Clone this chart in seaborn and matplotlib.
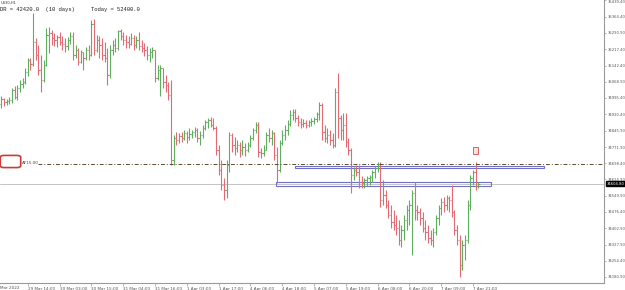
import numpy as np
import pandas as pd
import seaborn as sns
import matplotlib.pyplot as plt
from matplotlib.patches import Rectangle, FancyBboxPatch

# ---------------- data (US30, H1) ----------------
first_open = 34968
high = [35004, 34995, 34991, 35000, 35041, 35050, 35054, 35077, 35086, 35132,
        35177, 35177, 35382, 35268, 35236, 35191, 35168, 35314, 35318, 35304,
        35291, 35282, 35295, 35277, 35268, 35273, 35295, 35295, 35236, 35223,
        35214, 35204, 35227, 35236, 35350, 35355, 35282, 35277, 35268, 35250,
        35223, 35236, 35259, 35268, 35304, 35309, 35295, 35282, 35277, 35291,
        35282, 35277, 35295, 35259, 35245, 35232, 35223, 35227, 35214, 35145,
        35145, 35132, 35100, 35068, 35077, 34827, 34840, 34836, 34840, 34850,
        34845, 34859, 34850, 34863, 34859, 34845, 34872, 34895, 34904, 34909,
        34904, 34868, 34781, 34713, 34631, 34713, 34840, 34836, 34818, 34804,
        34795, 34804, 34790, 34795, 34827, 34859, 34886, 34886, 34768, 34781,
        34840, 34859, 34850, 34840, 34772, 34804, 34850, 34872, 34895, 34941,
        34945, 34945, 34918, 34904, 34900, 34895, 34895, 34904, 34909, 34931,
        34977, 34972, 34872, 34859, 34850, 34836, 35041, 35109, 34918, 34927,
        34927, 34813, 34768, 34681, 34690, 34690, 34640, 34631, 34640, 34645,
        34668, 34686, 34704, 34704, 34622, 34577, 34531, 34508, 34486, 34463,
        34440, 34417, 34463, 34508, 34531, 34577, 34613, 34508, 34495, 34476,
        34440, 34417, 34395, 34404, 34463, 34508, 34540, 34545, 34554, 34549,
        34599, 34486, 34417, 34372, 34349, 34372, 34531, 34645, 34668, 34704,
        34613]
low = [34950, 34959, 34963, 34968, 34972, 34991, 34986, 35022, 35041, 35059,
       35095, 35123, 35141, 35168, 35100, 35022, 35068, 35141, 35200, 35236,
       35232, 35227, 35236, 35214, 35204, 35214, 35241, 35168, 35177, 35145,
       35154, 35123, 35168, 35168, 35186, 35191, 35204, 35177, 35168, 35159,
       35054, 35086, 35191, 35204, 35214, 35259, 35236, 35223, 35223, 35236,
       35214, 35223, 35214, 35204, 35186, 35168, 35159, 35177, 35068, 35077,
       35004, 35041, 35022, 34986, 34690, 34690, 34781, 34790, 34795, 34804,
       34790, 34804, 34813, 34818, 34795, 34781, 34813, 34850, 34859, 34863,
       34850, 34736, 34645, 34577, 34531, 34540, 34658, 34749, 34736, 34749,
       34727, 34736, 34731, 34749, 34772, 34804, 34836, 34727, 34722, 34731,
       34759, 34795, 34781, 34713, 34608, 34658, 34781, 34804, 34827, 34868,
       34895, 34886, 34868, 34859, 34863, 34859, 34863, 34868, 34877, 34886,
       34895, 34804, 34795, 34790, 34781, 34768, 34772, 34813, 34804, 34804,
       34772, 34736, 34563, 34622, 34640, 34586, 34586, 34586, 34595, 34599,
       34613, 34631, 34658, 34499, 34508, 34495, 34449, 34404, 34395, 34372,
       34326, 34317, 34349, 34395, 34417, 34281, 34440, 34440, 34417, 34385,
       34349, 34335, 34326, 34317, 34372, 34417, 34463, 34476, 34486, 34476,
       34454, 34372, 34326, 34181, 34213, 34258, 34335, 34486, 34599, 34577,
       34586]
close = [34991, 34977, 34981, 34986, 35032, 35000, 35041, 35059, 35068, 35113,
         35168, 35150, 35250, 35191, 35123, 35077, 35145, 35282, 35291, 35268,
         35259, 35273, 35250, 35241, 35232, 35259, 35277, 35191, 35214, 35159,
         35204, 35177, 35214, 35191, 35332, 35214, 35259, 35236, 35191, 35177,
         35100, 35214, 35236, 35223, 35300, 35277, 35259, 35250, 35241, 35268,
         35236, 35259, 35232, 35223, 35214, 35191, 35204, 35214, 35086, 35123,
         35132, 35068, 35054, 35009, 34713, 34813, 34804, 34822, 34813, 34836,
         34818, 34831, 34840, 34850, 34813, 34827, 34859, 34886, 34895, 34872,
         34859, 34759, 34668, 34599, 34577, 34690, 34827, 34781, 34768, 34781,
         34759, 34772, 34759, 34781, 34813, 34850, 34872, 34749, 34745, 34759,
         34827, 34813, 34836, 34736, 34668, 34790, 34827, 34850, 34877, 34918,
         34931, 34904, 34886, 34877, 34881, 34872, 34886, 34890, 34900, 34922,
         34963, 34840, 34813, 34827, 34804, 34781, 35022, 34904, 34850, 34872,
         34795, 34759, 34645, 34668, 34658, 34613, 34608, 34622, 34631, 34636,
         34658, 34677, 34695, 34531, 34554, 34508, 34463, 34431, 34417, 34404,
         34349, 34395, 34440, 34486, 34508, 34563, 34486, 34476, 34449, 34404,
         34385, 34358, 34349, 34385, 34449, 34495, 34522, 34508, 34540, 34531,
         34476, 34395, 34349, 34235, 34326, 34349, 34508, 34631, 34658, 34595,
         34604.8]

tick_bars = [10, 22, 34, 46, 58, 70, 82, 94, 106, 118, 130, 142, 154, 166, 178]
tick_labels = ["29 Mar 14:00", "30 Mar 03:00", "30 Mar 15:00", "31 Mar 04:00",
               "31 Mar 16:00", "1 Apr 03:00", "1 Apr 17:00", "4 Apr 06:00",
               "4 Apr 18:00", "5 Apr 07:00", "5 Apr 19:00", "6 Apr 08:00",
               "6 Apr 20:00", "7 Apr 09:00", "7 Apr 21:00"]
price_ticks = [35439.40, 35364.40, 35290.90, 35217.40, 35142.40, 35068.90,
               34995.40, 34920.40, 34845.90, 34771.90, 34698.40, 34624.90,
               34549.90, 34476.40, 34402.90, 34327.90, 34254.40, 34180.90]
bid = 34604.80
level_line = 34697.0

# ---------------- figure ----------------
sns.set_theme(style="white")
plt.rcParams['font.family'] = ['DejaVu Sans']

W, H = 625, 290
fig = plt.figure(figsize=(W / 100, H / 100), dpi=100)
ax = fig.add_axes([0, 7 / H, 604 / W, 283 / H])
ax.set_facecolor("white")

n = len(close)
df = pd.DataFrame({"bar": np.arange(n), "high": high, "low": low, "close": close})
df["open"] = [first_open] + close[:-1]
df["up"] = df["close"] >= df["open"]

GREEN = "#5fae5f"
RED = "#e26a74"
lw = 0.8
for up, col in [(True, GREEN), (False, RED)]:
    d = df[df["up"] == up]
    ax.vlines(d["bar"], d["low"], d["high"], color=col, lw=lw)
    ax.hlines(d["open"], d["bar"] - 0.45, d["bar"], color=col, lw=lw)
    ax.hlines(d["close"], d["bar"], d["bar"] + 0.45, color=col, lw=lw)

px = 2.65  # pixels per bar
ax.set_xlim(-0.5, 604 / px - 0.5)
ax.set_ylim(35441 - 4.55 * 283, 35441)

# horizontal lines
ax.axhline(bid, color="#c4c4c4", lw=0.7, zorder=0)
ax.hlines(level_line, 38 / px - 0.5, 604 / px - 0.5, color="#5a4a30",
          lw=0.7, linestyles=(0, (4, 2, 1, 2)))

# rectangles
rc = "#6f6fc8"
ax.add_patch(Rectangle((295 / px - 0.5, 34675), (544 - 295) / px, 11,
                       fill=False, edgecolor=rc, lw=0.8))
ax.add_patch(Rectangle((276 / px - 0.5, 34595), (491 - 276) / px, 18,
                       fill=False, edgecolor=rc, lw=0.8))
# red marker
ax.add_patch(Rectangle((473 / px - 0.5, 34741), 5 / px, 30,
                       facecolor="#fbe3e3", edgecolor="#d94848", lw=0.6))

# red box left + label
ax.add_patch(FancyBboxPatch((1.5 / 604, (283 - 167) / 283), 18 / 604, 11 / 283,
                            boxstyle="round,pad=0.002,rounding_size=0.006",
                            transform=ax.transAxes, facecolor="white",
                            edgecolor="#cc3a3a", lw=1.2, clip_on=False))
ax.text(22 / 604, (283 - 163) / 283, "AF15.00", transform=ax.transAxes,
        fontsize=3, color="#444444", va="center", ha="left")

# ticks & spines
for s in ["top", "left"]:
    ax.spines[s].set_visible(False)
for s in ["right", "bottom"]:
    ax.spines[s].set_color("#9a9a9a")
    ax.spines[s].set_linewidth(0.8)

ax.yaxis.tick_right()
ax.set_yticks(price_ticks)
ax.set_yticklabels([f"{v:.2f}" for v in price_ticks])
ax.tick_params(axis="y", which="both", right=True, length=1.5, width=0.5,
               colors="#9a9a9a", labelcolor="#555555", labelsize=2.7, pad=0.8)
ax.get_yticklabels()[0].set_va("top")
ax.set_xticks(tick_bars)
ax.set_xticklabels(tick_labels, ha="left")
ax.tick_params(axis="x", bottom=True, length=2, width=0.5, colors="#9a9a9a",
               labelcolor="#555555", labelsize=3, pad=1)
ax.text(0, -0.012, "Mar 2022", transform=ax.transAxes, fontsize=3,
        color="#555555", ha="left", va="top")

# bid label
ax.text(1.004, bid, "34604.80", transform=ax.get_yaxis_transform(),
        fontsize=2.7, color="white", ha="left", va="center",
        bbox=dict(boxstyle="square,pad=0.12", facecolor="black", edgecolor="black"))

# header text
fig.text(0.5 / W, 1 - 3 / H, "US30,H1", fontsize=2.6, color="#333333",
         ha="left", va="center")
fig.text(0.5 / W, 1 - 9.5 / H, "DR = 42420.0  (10 days)     Today = 52400.0",
         fontsize=4, family="Liberation Mono", color="#222222",
         ha="left", va="center")

fig.savefig("out.png", dpi=100, facecolor="white")
